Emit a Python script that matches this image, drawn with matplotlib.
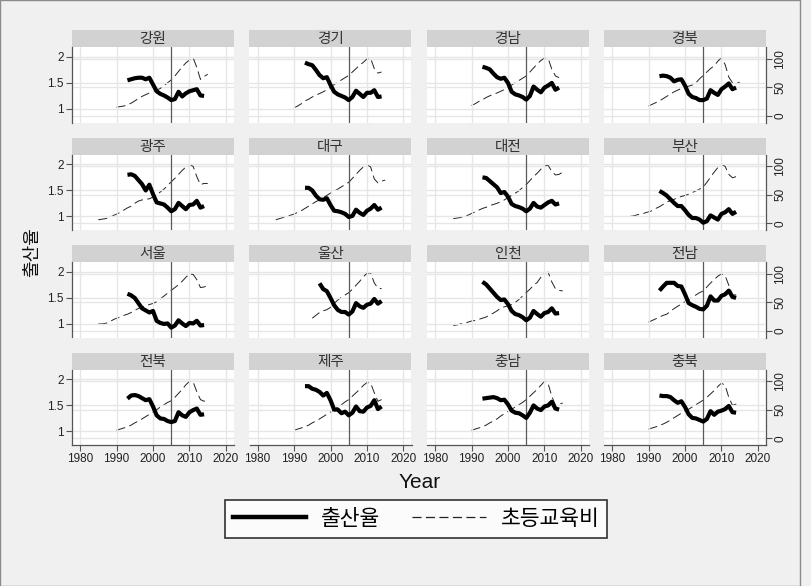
import numpy as np
import matplotlib
matplotlib.use("Agg")
import matplotlib.pyplot as plt
from matplotlib.lines import Line2D
from matplotlib.patches import Rectangle

plt.rcParams['font.family'] = ['Liberation Sans', 'Noto Sans CJK KR', 'DejaVu Sans']
plt.rcParams['lines.scale_dashes'] = False

# ---- data -------------------------------------------------------------
regions = ['강원', '경기', '경남', '경북',
           '광주', '대구', '대전', '부산',
           '서울', '울산', '인천', '전남',
           '전북', '제주', '충남', '충북']

# total fertility rate (출산율), annual from tfr_start to 2014
tfr_start = [1993, 1993, 1993, 1993,
             1993, 1993, 1993, 1993,
             1993, 1997, 1993, 1993,
             1993, 1993, 1993, 1993]

tfr = [
    [1.55, 1.57, 1.59, 1.60, 1.60, 1.57, 1.60, 1.47, 1.34, 1.29, 1.26, 1.22, 1.17, 1.19, 1.33, 1.24, 1.30, 1.34, 1.36, 1.38, 1.26, 1.25],
    [1.89, 1.86, 1.84, 1.75, 1.65, 1.59, 1.61, 1.46, 1.33, 1.28, 1.25, 1.22, 1.17, 1.23, 1.35, 1.29, 1.23, 1.31, 1.31, 1.36, 1.23, 1.24],
    [1.81, 1.79, 1.76, 1.68, 1.61, 1.58, 1.60, 1.50, 1.33, 1.28, 1.26, 1.23, 1.18, 1.25, 1.43, 1.37, 1.32, 1.41, 1.45, 1.50, 1.37, 1.41],
    [1.63, 1.64, 1.63, 1.60, 1.53, 1.56, 1.57, 1.45, 1.29, 1.23, 1.21, 1.17, 1.17, 1.20, 1.36, 1.31, 1.27, 1.38, 1.43, 1.49, 1.38, 1.41],
    [1.80, 1.81, 1.78, 1.70, 1.62, 1.50, 1.61, 1.43, 1.27, 1.25, 1.23, 1.17, 1.10, 1.14, 1.26, 1.20, 1.14, 1.22, 1.23, 1.30, 1.17, 1.20],
    [1.55, 1.55, 1.50, 1.40, 1.33, 1.32, 1.35, 1.22, 1.11, 1.10, 1.08, 1.05, 0.99, 1.01, 1.13, 1.07, 1.03, 1.11, 1.15, 1.22, 1.13, 1.17],
    [1.75, 1.74, 1.68, 1.62, 1.56, 1.45, 1.47, 1.38, 1.24, 1.20, 1.18, 1.15, 1.10, 1.15, 1.26, 1.19, 1.17, 1.22, 1.27, 1.30, 1.23, 1.25],
    [1.49, 1.45, 1.40, 1.33, 1.26, 1.20, 1.20, 1.12, 1.03, 0.97, 0.97, 0.94, 0.88, 0.91, 1.02, 0.98, 0.94, 1.05, 1.08, 1.14, 1.05, 1.09],
    [1.58, 1.55, 1.50, 1.40, 1.30, 1.26, 1.22, 1.25, 1.06, 1.02, 1.00, 1.01, 0.93, 0.97, 1.07, 1.01, 0.96, 1.02, 1.01, 1.06, 0.97, 0.98],
    [1.78, 1.67, 1.63, 1.50, 1.36, 1.27, 1.23, 1.23, 1.18, 1.24, 1.40, 1.34, 1.31, 1.37, 1.39, 1.48, 1.39, 1.44],
    [1.81, 1.76, 1.68, 1.60, 1.52, 1.46, 1.47, 1.38, 1.25, 1.19, 1.17, 1.13, 1.07, 1.12, 1.25, 1.19, 1.14, 1.21, 1.23, 1.30, 1.20, 1.21],
    [1.64, 1.72, 1.79, 1.79, 1.79, 1.73, 1.72, 1.57, 1.40, 1.36, 1.33, 1.29, 1.28, 1.35, 1.53, 1.45, 1.45, 1.54, 1.57, 1.64, 1.52, 1.50],
    [1.63, 1.69, 1.70, 1.68, 1.64, 1.60, 1.62, 1.48, 1.31, 1.25, 1.24, 1.20, 1.18, 1.20, 1.37, 1.31, 1.28, 1.37, 1.41, 1.44, 1.32, 1.33],
    [1.87, 1.87, 1.82, 1.80, 1.76, 1.69, 1.74, 1.60, 1.42, 1.42, 1.35, 1.38, 1.31, 1.36, 1.48, 1.39, 1.38, 1.46, 1.49, 1.60, 1.43, 1.48],
    [1.63, 1.64, 1.65, 1.66, 1.64, 1.60, 1.61, 1.52, 1.40, 1.36, 1.35, 1.31, 1.26, 1.36, 1.50, 1.44, 1.41, 1.48, 1.50, 1.57, 1.44, 1.42],
    [1.69, 1.68, 1.68, 1.66, 1.60, 1.55, 1.58, 1.47, 1.33, 1.26, 1.25, 1.22, 1.19, 1.24, 1.39, 1.32, 1.38, 1.40, 1.43, 1.49, 1.37, 1.36],
]

# elementary education spending index (초등교육비), annual from edu_start
edu_start = [1990, 1990, 1990, 1990,
             1985, 1985, 1985, 1985,
             1985, 1995, 1985, 1990,
             1990, 1990, 1990, 1990]

edu = [
    [15, 16, 17, 19, 22, 26, 30, 34, 37, 40, 42, 45, 48, 53, 58, 63, 70, 78, 86, 93, 98, 102, 85, 64, 69, 73],
    [14, 17, 21, 26, 29, 33, 36, 39, 42, 46, 50, 55, 59, 63, 67, 71, 77, 83, 89, 94, 100, 101, 83, 75, 77],
    [18, 21, 25, 28, 32, 35, 38, 40, 43, 46, 49, 54, 58, 62, 66, 70, 77, 84, 91, 97, 102, 101, 82, 70, 67],
    [17, 20, 23, 26, 30, 34, 38, 42, 45, 48, 50, 52, 54, 58, 65, 71, 77, 83, 88, 96, 102, 90, 68, 58, 57, 59],
    [6, 7, 8, 10, 13, 16, 19, 23, 27, 30, 35, 39, 41, 42, 43, 46, 50, 55, 60, 66, 73, 79, 86, 93, 99, 104, 100, 82, 68, 70, 70],
    [6, 8, 10, 12, 14, 16, 19, 22, 26, 30, 34, 38, 41, 45, 49, 53, 57, 60, 64, 68, 72, 79, 86, 93, 99, 103, 99, 78, 71, 74, 76],
    [8, 9, 10, 12, 14, 17, 20, 23, 26, 28, 31, 33, 35, 38, 41, 45, 49, 53, 57, 63, 68, 75, 82, 88, 95, 101, 102, 91, 85, 86, 90],
    [12, 13, 15, 16, 18, 20, 22, 26, 29, 33, 37, 40, 42, 45, 47, 49, 51, 54, 57, 60, 64, 72, 81, 90, 98, 104, 100, 86, 80, 82, 82],
    [12, 12, 13, 15, 19, 22, 24, 27, 29, 32, 36, 39, 42, 44, 46, 48, 51, 56, 61, 66, 71, 76, 81, 87, 94, 100, 99, 90, 76, 77, 80],
    [22, 27, 32, 35, 37, 41, 48, 54, 59, 63, 67, 73, 80, 87, 95, 101, 102, 84, 75, 74],
    [9, 10, 12, 13, 15, 17, 18, 20, 22, 24, 28, 31, 35, 40, 42, 44, 46, 50, 55, 61, 67, 73, 80, 85, 94, 102, 103, 86, 74, 71, 70],
    [15, 18, 21, 24, 27, 29, 34, 39, 43, 47, 51, 55, 59, 63, 67, 70, 77, 84, 90, 96, 100, 97, 80, 63, 63, 65],
    [14, 16, 18, 20, 23, 27, 30, 34, 38, 42, 46, 50, 55, 59, 63, 66, 72, 79, 86, 94, 100, 99, 82, 68, 65, 70],
    [14, 16, 18, 20, 23, 27, 30, 34, 38, 42, 46, 50, 55, 59, 64, 68, 74, 80, 86, 93, 98, 97, 80, 65, 68],
    [14, 16, 18, 20, 23, 27, 30, 34, 39, 43, 47, 51, 55, 59, 63, 68, 74, 80, 86, 93, 100, 96, 74, 58, 60, 62],
    [16, 18, 20, 22, 25, 28, 32, 36, 40, 44, 47, 51, 55, 59, 63, 67, 72, 78, 84, 91, 97, 93, 72, 58, 60, 65],
]

x_ticks = [1980, 1990, 2000, 2010, 2020]
left_ticks = [1, 1.5, 2]
left_tick_labels = ['1', '1.5', '2']
right_ticks = [0, 50, 100]
ref_year = 2005

# ---- layout (pixels) --------------------------------------------------
W, H = 812, 586
BG = '#f0f0f0'
STRIP = '#d2d2d2'
GRID = '#e6e6e6'
AXC = '#555555'

col_left = [72, 249.5, 427, 604]
panel_w = 162
row_top = [30, 137.5, 245, 352.5]
strip_h = 17
plot_h = 75.5


def rect(l, t, w, h):
    return [l / W, 1 - (t + h) / H, w / W, h / H]


fig = plt.figure(figsize=(W / 100, H / 100), dpi=100, facecolor=BG)

for i, name in enumerate(regions):
    r, c = divmod(i, 4)
    l = col_left[c]
    t = row_top[r]

    # header strip
    sax = fig.add_axes(rect(l, t, panel_w, strip_h))
    sax.set_facecolor(STRIP)
    sax.set_xticks([])
    sax.set_yticks([])
    for s in sax.spines.values():
        s.set_visible(False)
    sax.text(0.5, 0.45, name, ha='center', va='center', fontsize=10.5,
             color='#333333', family=['Noto Sans CJK KR'])

    # plot region
    ax = fig.add_axes(rect(l, t + strip_h, panel_w, plot_h))
    ax.set_facecolor('white')
    ax.set_xlim(1977.8, 2022.2)
    ax.set_ylim(0.74, 2.19)
    ax2 = ax.twinx()
    ax2.set_ylim(-12, 121)

    for yv in left_ticks:
        ax.axhline(yv, color=GRID, lw=1.0, zorder=0)
    for yv in right_ticks:
        ax2.axhline(yv, color=GRID, lw=1.0, zorder=0)
    for xv in x_ticks:
        ax.axvline(xv, color=GRID, lw=1.0, zorder=0)
    ax.axvline(ref_year, color='#5a5a5a', lw=0.9, zorder=1)

    ey = np.arange(edu_start[i], edu_start[i] + len(edu[i]))
    ax2.plot(ey, edu[i], color='#222222', lw=0.7, dashes=(6.5, 3.2), zorder=2)

    ty = np.arange(tfr_start[i], tfr_start[i] + len(tfr[i]))
    ax.plot(ty, tfr[i], color='black', lw=3.0, solid_joinstyle='round',
            solid_capstyle='butt', zorder=3)
    ax.set_zorder(ax2.get_zorder() + 1)
    ax.patch.set_visible(False)
    ax2.patch.set_facecolor('white')
    ax2.patch.set_visible(True)

    for a in (ax, ax2):
        for s in a.spines.values():
            s.set_visible(False)

    # left axis
    if c == 0:
        ax.spines['left'].set_visible(True)
        ax.spines['left'].set_color(AXC)
        ax.spines['left'].set_linewidth(0.9)
        ax.set_yticks(left_ticks)
        ax.set_yticklabels(left_tick_labels)
        ax.tick_params(axis='y', length=4, color=AXC, labelsize=8.5, pad=2,
                       labelcolor='#222222')
    else:
        ax.set_yticks([])

    # right axis
    if c == 3:
        ax2.spines['right'].set_visible(True)
        ax2.spines['right'].set_color(AXC)
        ax2.spines['right'].set_linewidth(0.9)
        ax2.set_yticks(right_ticks)
        ax2.set_yticklabels([str(v) for v in right_ticks], rotation=90,
                            va='center')
        ax2.tick_params(axis='y', length=4, color=AXC, labelsize=8.5, pad=2,
                        labelcolor='#222222')
    else:
        ax2.set_yticks([])

    # bottom axis
    if r == 3:
        ax.spines['bottom'].set_visible(True)
        ax.spines['bottom'].set_color(AXC)
        ax.spines['bottom'].set_linewidth(0.9)
        ax.set_xticks(x_ticks)
        ax.tick_params(axis='x', length=4, color=AXC, labelsize=8.5, pad=2,
                       labelcolor='#222222')
    else:
        ax.set_xticks([])

# axis titles
fig.text(420 / W, 1 - 482 / H, 'Year', ha='center', va='center',
         fontsize=15, color='#111111')
fig.text(32 / W, 1 - 252 / H, '출산율', ha='center', va='center',
         rotation=90, fontsize=13, color='#111111',
         family=['Noto Sans CJK KR'])

# legend
handles = [Line2D([], [], color='black', lw=3.2),
           Line2D([], [], color='#222222', lw=0.9, dashes=(6.5, 3.2))]
leg = fig.legend(handles, ['출산율', '초등교육비'], ncol=2,
                 loc='center', bbox_to_anchor=(416 / W, 1 - 519 / H),
                 frameon=True, fancybox=False, edgecolor='black',
                 handlelength=3.4, handletextpad=0.7, columnspacing=1.5,
                 borderpad=0.35, borderaxespad=0,
                 prop={'family': ['Noto Sans CJK KR'], 'size': 15.5})
leg.get_frame().set_linewidth(1.2)
leg.get_frame().set_facecolor('white')

# outer frame
fig.patches.append(Rectangle((0, 0), 800 / W, 1, transform=fig.transFigure,
                             fill=False, edgecolor='#8a8a8a', lw=1.0))

fig.savefig('out.png', dpi=100, facecolor=BG)
